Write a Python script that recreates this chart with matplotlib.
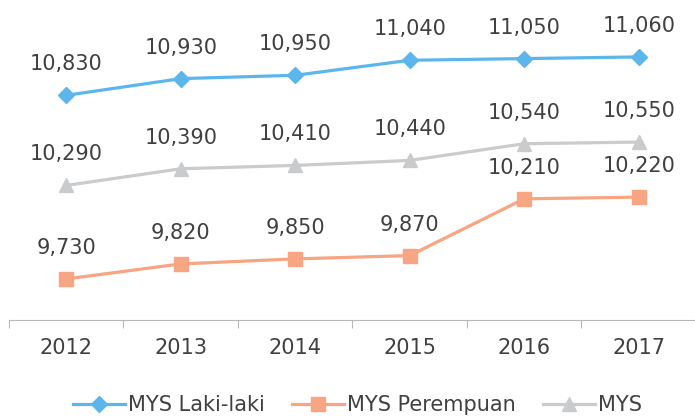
import matplotlib
matplotlib.use('Agg')
import matplotlib.pyplot as plt

years = ['2012', '2013', '2014', '2015', '2016', '2017']
mys_laki = [10830, 10930, 10950, 11040, 11050, 11060]
mys_perempuan = [9730, 9820, 9850, 9870, 10210, 10220]
mys_total = [10290, 10390, 10410, 10440, 10540, 10550]

text_color = '#404040'
plt.rcParams['font.family'] = ['DejaVu Sans']

fig = plt.figure(figsize=(6.95, 4.2), dpi=100)
ax = fig.add_axes([9 / 695, 100 / 420, 687 / 695, 320 / 420])

x = list(range(len(years)))

series = [
    ('MYS Laki-laki', mys_laki, '#5cb6ec', 'D', 8),
    ('MYS Perempuan', mys_perempuan, '#f7a582', 's', 10),
    ('MYS', mys_total, '#c9cbcc', '^', 10),
]

for name, values, color, marker, msize in series:
    ax.plot(x, values, color=color, linewidth=2.3, marker=marker,
            markersize=msize, label=name, clip_on=False)
    for xi, v in zip(x, values):
        ax.annotate(f'{v:,}', (xi, v), xytext=(0, 18), textcoords='offset points',
                    ha='center', va='baseline', fontsize=15, color=text_color)

ax.set_xlim(-0.5, 5.5)
ax.set_ylim(9484, 11401)

for side in ['top', 'right', 'left']:
    ax.spines[side].set_visible(False)
ax.spines['bottom'].set_color('#b8b8b8')
ax.spines['bottom'].set_linewidth(0.8)

ax.set_yticks([])
ax.set_xticks(x)
ax.set_xticklabels(years, fontsize=15, color=text_color)
ax.tick_params(axis='x', which='major', length=0, pad=13)
ax.set_xticks([i - 0.5 for i in range(len(years) + 1)], minor=True)
ax.tick_params(axis='x', which='minor', length=6, width=0.8, color='#b8b8b8', direction='out')

fig.legend(loc='center', bbox_to_anchor=(0.514, 15 / 420), ncol=3, frameon=False,
           fontsize=15, labelcolor=text_color, handlelength=2.5, handletextpad=0.15,
           columnspacing=1.3)

fig.savefig('out.png', dpi=100)
